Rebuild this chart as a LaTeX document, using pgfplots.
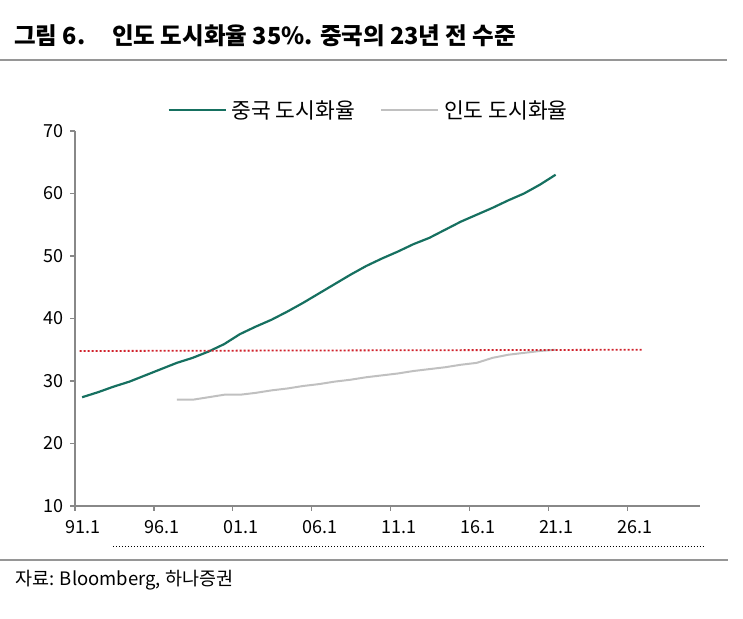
\documentclass[border=0pt]{standalone}
\usepackage{fontspec}
\setmainfont{Noto Sans CJK KR}
\usepackage{pgfplots}
\pgfplotsset{compat=1.18}

\definecolor{cngreen}{RGB}{22,112,96}
\definecolor{ingray}{RGB}{192,192,192}
\definecolor{refred}{RGB}{208,32,42}
\definecolor{axgray}{RGB}{136,136,136}
\definecolor{rulegray}{RGB}{150,150,150}

\newcommand{\fs}[1]{\fontsize{#1bp}{#1bp}\selectfont}

\begin{document}
\begin{tikzpicture}
\path[use as bounding box] (0,0) rectangle (743bp,619bp);

% title and rules
\node[anchor=base west, inner sep=0pt] at (14bp,574bp)
  {\fs{23.5}\bfseries 그림 6.\hspace{27bp}인도 도시화율 35\%. 중국의 23년 전 수준};
\draw[rulegray, line width=2.5bp] (0bp,559bp) -- (727bp,559bp);
\draw[rulegray, line width=2bp] (0bp,59bp) -- (728bp,59bp);
\draw[black, line width=1bp, dotted] (113bp,72bp) -- (703bp,72bp);
\node[anchor=base west, inner sep=0pt] at (15bp,34bp)
  {\fs{18.5}자료: Bloomberg, 하나증권};

\begin{axis}[
  at={(75bp,113bp)}, anchor=south west,
  scale only axis,
  width=625bp, height=375bp,
  xmin=1991, xmax=2030.6,
  ymin=10, ymax=70,
  axis x line*=bottom, axis y line*=left,
  axis line style={axgray, line width=1.3bp, -},
  tick style={axgray, line width=1.3bp},
  tick align=outside,
  major tick length=5bp,
  xtick={1991,1996,2001,2006,2011,2016,2021,2026},
  xticklabels={91.1,96.1,01.1,06.1,11.1,16.1,21.1,26.1},
  ytick={10,20,30,40,50,60,70},
  /pgf/number format/assume math mode=true,
  ticklabel style={font=\fs{18}, black},
  x tick label style={xshift=8bp, yshift=-6bp},
  y tick label style={xshift=-3bp},
  legend style={
    at={(0.472,1)}, anchor=center, yshift=21bp,
    draw=none, fill=none,
    font=\fs{21.5},
    legend columns=2,
    /tikz/every even column/.append style={column sep=20bp},
    nodes={inner ysep=2bp, inner xsep=5bp},
  },
  legend image code/.code={\draw[#1] (0bp,0bp) -- (57bp,0bp);},
  clip=false,
]

\addplot[cngreen, line width=2.2bp] coordinates {
  (1991.45,27.4) (1992.45,28.2) (1993.45,29.1) (1994.45,29.9) (1995.45,30.9)
  (1996.45,31.9) (1997.45,32.9) (1998.45,33.7) (1999.45,34.7) (2000.45,35.9)
  (2001.45,37.5) (2002.45,38.7) (2003.45,39.8) (2004.45,41.1) (2005.45,42.5)
  (2006.45,44.0) (2007.45,45.5) (2008.45,47.0) (2009.45,48.4) (2010.45,49.6)
  (2011.45,50.7) (2012.45,51.9) (2013.45,52.9) (2014.45,54.2) (2015.45,55.5)
  (2016.45,56.6) (2017.45,57.7) (2018.45,58.9) (2019.45,60.0) (2020.45,61.4)
  (2021.45,63.0)
};
\addlegendentry{중국 도시화율}

\addplot[ingray, line width=2bp] coordinates {
  (1997.45,27.0) (1998.45,27.0) (1999.45,27.4) (2000.45,27.8) (2001.45,27.8)
  (2002.45,28.1) (2003.45,28.5) (2004.45,28.8) (2005.45,29.2) (2006.45,29.5)
  (2007.45,29.9) (2008.45,30.2) (2009.45,30.6) (2010.45,30.9) (2011.45,31.2)
  (2012.45,31.6) (2013.45,31.9) (2014.45,32.2) (2015.45,32.6) (2016.45,32.9)
  (2017.45,33.7) (2018.45,34.2) (2019.45,34.5) (2020.45,34.8) (2021.45,35.0)
};
\addlegendentry{인도 도시화율}

\addplot[refred, line width=1.8bp, dash pattern=on 1.8bp off 2.2bp, forget plot]
  coordinates {(1991.3,34.8) (2026.9,35.0)};

\end{axis}
\end{tikzpicture}
\end{document}
